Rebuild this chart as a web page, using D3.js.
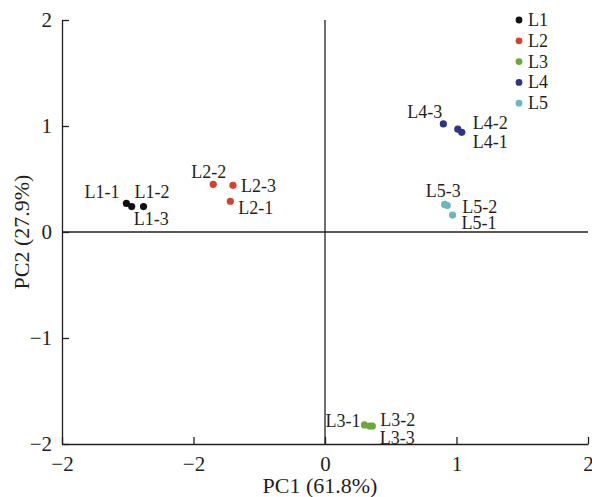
<!DOCTYPE html>
<html>
<head>
<meta charset="utf-8">
<script src="https://cdn.jsdelivr.net/npm/d3@7"></script>
<style>
body { margin: 0; background: #fff; }
text { font-family: "Liberation Serif", "DejaVu Serif", serif; fill: #231f20; }
</style>
</head>
<body>
<div id="figure"></div>
<script>
var w = 592;
var h = 497;
var margin = { top: 20, right: 4, bottom: 53, left: 62 };
var chartWidth = w - margin.left - margin.right;
var chartHeight = h - margin.top - margin.bottom;

// groups and colours
var groups = ["L1", "L2", "L3", "L4", "L5"];
var groupColors = ["#111111", "#d7402c", "#6aa83a", "#2f3489", "#6bb6bf"];

// sample scores (PC1, PC2)
var names = ["L1-1", "L1-2", "L1-3", "L2-1", "L2-2", "L2-3", "L3-1", "L3-2", "L3-3",
	"L4-1", "L4-2", "L4-3", "L5-1", "L5-2", "L5-3"];
var pc1 = [-1.51, -1.38, -1.47, -0.72, -0.85, -0.70, 0.30, 0.36, 0.34,
	1.04, 1.01, 0.90, 0.97, 0.93, 0.91];
var pc2 = [0.27, 0.24, 0.24, 0.29, 0.45, 0.44, -1.82, -1.83, -1.83,
	0.94, 0.97, 1.02, 0.16, 0.25, 0.26];

// tick labels as printed on the figure
var xTicks = [-2, -1, 0, 1, 2];
var xTickLabels = ["\u22122", "\u22122", "0", "1", "2"];
var yTicks = [-2, -1, 0, 1, 2];
var yTickLabels = ["\u22122", "\u22121", "0", "1", "2"];

// label placement for each sample: [dx, dy, anchor]
var labelPos = [
	[-7, -5, "end"], [-9, -9, "start"], [2, 18, "start"],
	[8, 13, "start"], [-22, -6, "start"], [8, 7, "start"],
	[-4, 2, "end"], [8, 0, "start"], [10, 18, "start"],
	[11, 16, "start"], [15, 0, "start"], [-1, -6, "end"],
	[9, 14, "start"], [15, 7, "start"], [-19, -7, "start"]
];

var data = names.map(function(n, i){
	return { name: n, group: n.split("-")[0], x: pc1[i], y: pc2[i], lp: labelPos[i] };
});

var color = d3.scaleOrdinal().domain(groups).range(groupColors);

var svg = d3.select('#figure')
	.append('svg')
	.attr('width', w)
	.attr('height', h);

var chart = svg.append('g')
	.attr('transform', 'translate(' + margin.left + ',' + margin.top + ')');

var xScale = d3.scaleLinear().domain([-2, 2]).range([0, chartWidth]);
var yScale = d3.scaleLinear().domain([-2, 2]).range([chartHeight, 0]);

// zero lines
chart.append('line')
	.attr('x1', xScale(0)).attr('x2', xScale(0))
	.attr('y1', 0).attr('y2', chartHeight)
	.attr('stroke', '#231f20').attr('stroke-width', 1.3);
chart.append('line')
	.attr('x1', 0).attr('x2', chartWidth)
	.attr('y1', yScale(0)).attr('y2', yScale(0))
	.attr('stroke', '#231f20').attr('stroke-width', 1.3);

// axes with inward ticks
var xAxis = d3.axisBottom(xScale)
	.tickValues(xTicks)
	.tickSizeInner(-7)
	.tickSizeOuter(0)
	.tickPadding(12)
	.tickFormat(function(d, i){ return xTickLabels[i]; });

var gx = chart.append('g')
	.attr('transform', 'translate(0,' + chartHeight + ')')
	.call(xAxis);

var yAxis = d3.axisLeft(yScale)
	.tickValues(yTicks)
	.tickSizeInner(-7)
	.tickSizeOuter(0)
	.tickPadding(10)
	.tickFormat(function(d, i){ return yTickLabels[i]; });

var gy = chart.append('g').call(yAxis);

[gx, gy].forEach(function(g){
	g.select('.domain').attr('stroke', '#231f20').attr('stroke-width', 1.3);
	g.selectAll('.tick line').attr('stroke', '#231f20').attr('stroke-width', 1.3);
	g.selectAll('.tick text')
		.attr('font-family', '"Liberation Serif", serif')
		.attr('font-size', 21)
		.attr('fill', '#231f20');
});

// axis titles
svg.append('text')
	.attr('x', margin.left + xScale(0) - 5)
	.attr('y', 493)
	.attr('text-anchor', 'middle')
	.attr('font-size', 22)
	.text('PC1 (61.8%)');

svg.append('text')
	.attr('transform', 'translate(29,' + (margin.top + yScale(0)) + ') rotate(-90)')
	.attr('text-anchor', 'middle')
	.attr('font-size', 22)
	.text('PC2 (27.9%)');

// points
chart.append('g')
	.selectAll('circle')
	.data(data)
	.enter()
	.append('circle')
	.attr('cx', function(d){ return xScale(d.x); })
	.attr('cy', function(d){ return yScale(d.y); })
	.attr('r', 3.6)
	.attr('fill', function(d){ return color(d.group); });

// point labels
chart.append('g')
	.selectAll('text')
	.data(data)
	.enter()
	.append('text')
	.attr('x', function(d){ return xScale(d.x) + d.lp[0]; })
	.attr('y', function(d){ return yScale(d.y) + d.lp[1]; })
	.attr('text-anchor', function(d){ return d.lp[2]; })
	.attr('font-size', 18)
	.text(function(d){ return d.name; });

// legend
var legend = svg.append('g')
	.selectAll('g')
	.data(groups)
	.enter()
	.append('g')
	.attr('transform', function(d, i){ return 'translate(519,' + (20 + i * 20.8) + ')'; });

legend.append('circle')
	.attr('r', 3.4)
	.attr('fill', function(d){ return color(d); });

legend.append('text')
	.attr('x', 9)
	.attr('y', 6)
	.attr('font-size', 18)
	.text(function(d){ return d; });
</script>
</body>
</html>
